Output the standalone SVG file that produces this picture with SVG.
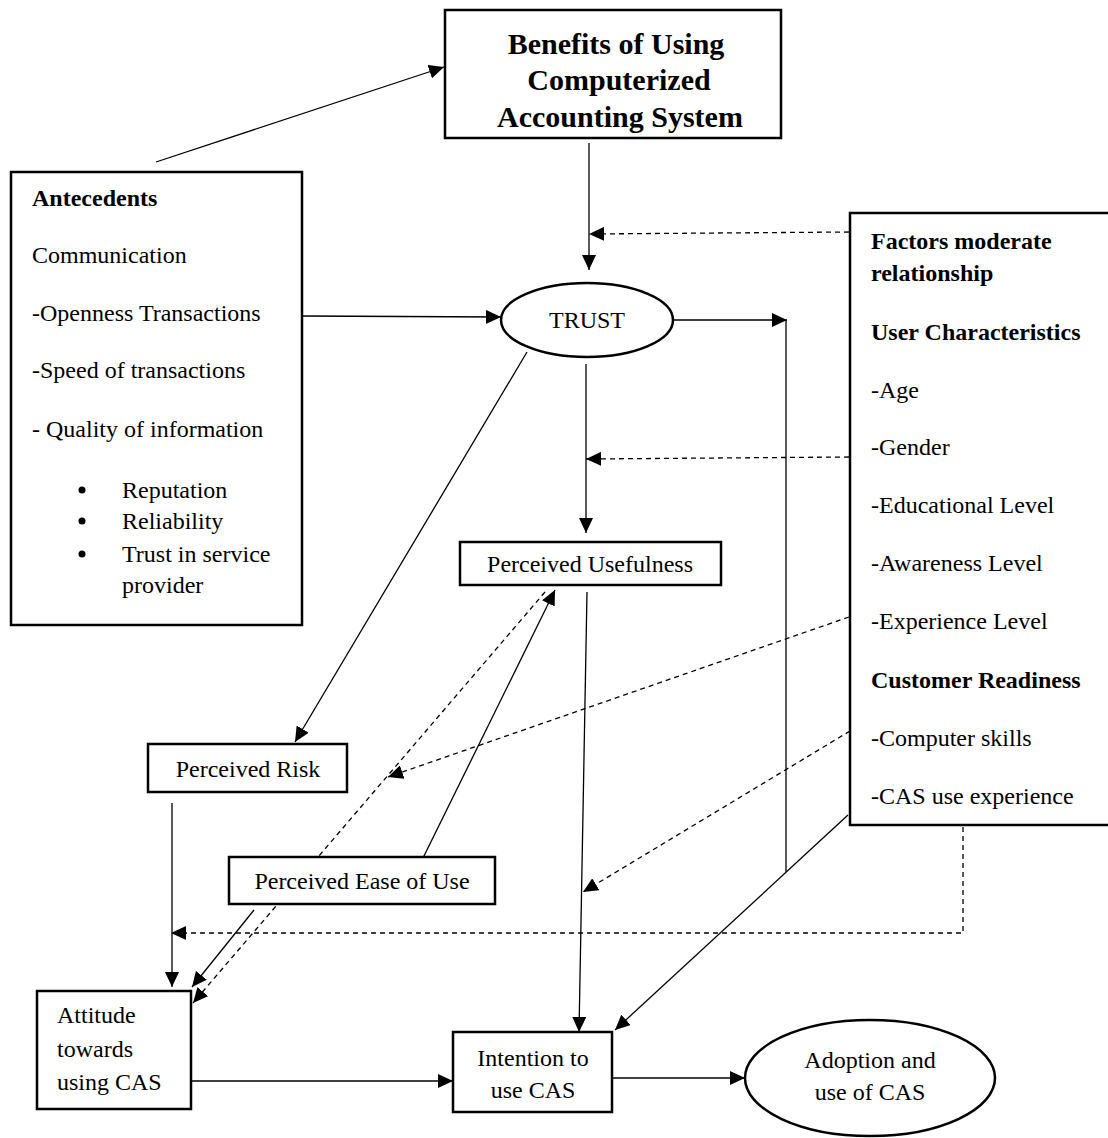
<svg xmlns="http://www.w3.org/2000/svg" width="1108" height="1138" viewBox="0 0 1108 1138">
<style>
text{font-family:"Liberation Serif","Times New Roman",serif;font-size:24px;fill:#000}
.b{font-weight:bold}
.t{font-weight:bold;font-size:30px}
.c{text-anchor:middle}
.box{fill:#fff;stroke:#000;stroke-width:2.5}
.ln{fill:none;stroke:#000;stroke-width:1.3}
.da{fill:none;stroke:#000;stroke-width:1.3;stroke-dasharray:5 4}
</style>
<defs>
<marker id="ah" markerUnits="userSpaceOnUse" markerWidth="16" markerHeight="14" refX="15" refY="7" orient="auto">
<path d="M0,0 L15,7 L0,14 z" fill="#000"/>
</marker>
</defs>
<rect width="1108" height="1138" fill="#fff"/>

<g id="connectors">
<line class="ln" x1="156" y1="162" x2="444" y2="67" marker-end="url(#ah)"/>
<line class="ln" x1="589" y1="143" x2="589" y2="270" marker-end="url(#ah)"/>
<line class="da" x1="849" y1="232" x2="589" y2="234" marker-end="url(#ah)"/>
<line class="ln" x1="302" y1="316" x2="501" y2="317" marker-end="url(#ah)"/>
<line class="ln" x1="673" y1="320" x2="787" y2="320" marker-end="url(#ah)"/>
<polyline class="ln" points="786,320 786,872"/>
<line class="ln" x1="586" y1="364" x2="586" y2="533" marker-end="url(#ah)"/>
<line class="da" x1="849" y1="457" x2="586" y2="459" marker-end="url(#ah)"/>
<line class="ln" x1="527" y1="352" x2="295" y2="742" marker-end="url(#ah)"/>
<line class="ln" x1="587" y1="592" x2="579" y2="1032" marker-end="url(#ah)"/>
<line class="da" x1="849" y1="617" x2="388" y2="777" marker-end="url(#ah)"/>
<line class="da" x1="850" y1="731" x2="583" y2="892" marker-end="url(#ah)"/>
<line class="ln" x1="848" y1="815" x2="615" y2="1030" marker-end="url(#ah)"/>
<polyline class="da" points="963,827 963,933 171,933" marker-end="url(#ah)"/>
<line class="ln" x1="172" y1="803" x2="172" y2="987" marker-end="url(#ah)"/>
<line class="ln" x1="423" y1="858" x2="555" y2="590" marker-end="url(#ah)"/>
<line class="da" x1="545" y1="592" x2="193" y2="1003" marker-end="url(#ah)"/>
<line class="ln" x1="254" y1="910" x2="192" y2="987" marker-end="url(#ah)"/>
<line class="ln" x1="191" y1="1081" x2="453" y2="1081" marker-end="url(#ah)"/>
<line class="ln" x1="612" y1="1078" x2="745" y2="1078" marker-end="url(#ah)"/>
</g>

<g id="benefits">
<rect class="box" x="445" y="10" width="336" height="128"/>
<text class="t c" x="616" y="54">Benefits of Using</text>
<text class="t c" x="619" y="90">Computerized</text>
<text class="t c" x="620" y="127">Accounting System</text>
</g>

<g id="antecedents">
<rect class="box" x="11" y="172" width="291" height="453"/>
<text class="b" x="32" y="206">Antecedents</text>
<text x="32" y="263">Communication</text>
<text x="32" y="321">-Openness Transactions</text>
<text x="32" y="378">-Speed of transactions</text>
<text x="32" y="437">- Quality of information</text>
<circle cx="82" cy="490" r="3.5" fill="#000"/>
<circle cx="82" cy="521" r="3.5" fill="#000"/>
<circle cx="82" cy="554" r="3.5" fill="#000"/>
<text x="122" y="498">Reputation</text>
<text x="122" y="529">Reliability</text>
<text x="122" y="562">Trust in service</text>
<text x="122" y="593">provider</text>
</g>

<g id="factors">
<rect class="box" x="850" y="213" width="262" height="612"/>
<text class="b" x="871" y="249">Factors moderate</text>
<text class="b" x="871" y="281">relationship</text>
<text class="b" x="871" y="340">User Characteristics</text>
<text x="871" y="398">-Age</text>
<text x="871" y="455">-Gender</text>
<text x="871" y="513">-Educational Level</text>
<text x="871" y="571">-Awareness Level</text>
<text x="871" y="629">-Experience Level</text>
<text class="b" x="871" y="688">Customer Readiness</text>
<text x="871" y="746">-Computer skills</text>
<text x="871" y="804">-CAS use experience</text>
</g>

<g id="trust">
<ellipse class="box" cx="587" cy="320" rx="86" ry="37"/>
<text class="c" x="587" y="328">TRUST</text>
</g>

<g id="usefulness">
<rect class="box" x="460" y="542" width="261" height="43"/>
<text class="c" x="590" y="572">Perceived Usefulness</text>
</g>

<g id="risk">
<rect class="box" x="148" y="744" width="199" height="48"/>
<text class="c" x="248" y="777">Perceived Risk</text>
</g>

<g id="ease">
<rect class="box" x="229" y="857" width="266" height="47"/>
<text class="c" x="362" y="889">Perceived Ease of Use</text>
</g>

<g id="attitude">
<rect class="box" x="37" y="991" width="154" height="118"/>
<text x="57" y="1023">Attitude</text>
<text x="57" y="1057">towards</text>
<text x="57" y="1090">using CAS</text>
</g>

<g id="intention">
<rect class="box" x="453" y="1032" width="159" height="80"/>
<text class="c" x="533" y="1066">Intention to</text>
<text class="c" x="533" y="1098">use CAS</text>
</g>

<g id="adoption">
<ellipse class="box" cx="870" cy="1078" rx="125" ry="58"/>
<text class="c" x="870" y="1068">Adoption and</text>
<text class="c" x="870" y="1100">use of CAS</text>
</g>
</svg>
